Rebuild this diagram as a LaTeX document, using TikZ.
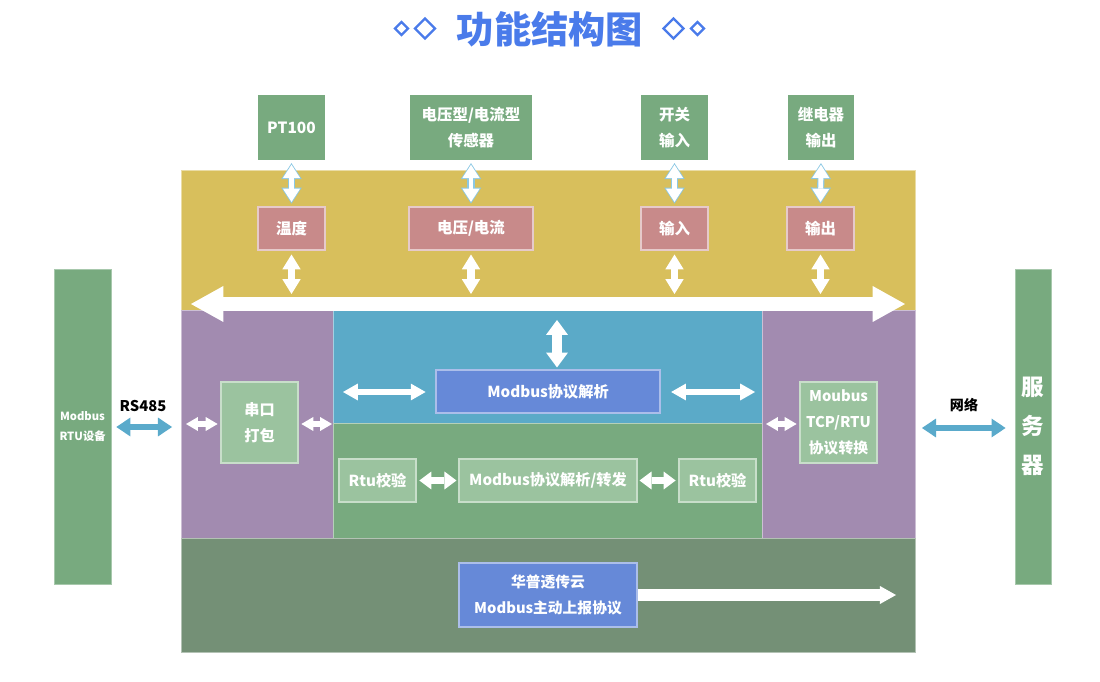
\documentclass[tikz,border=0pt]{standalone}
\usepackage{fontspec}
\setmainfont{Noto Sans CJK SC}
\usetikzlibrary{arrows.meta,calc}

\definecolor{boxgreen}{HTML}{78AA7F}
\definecolor{bandyellow}{HTML}{D8BF5C}
\definecolor{boxpink}{HTML}{C88A8A}
\definecolor{panelpurple}{HTML}{A28BB0}
\definecolor{panelblue}{HTML}{5BAAC8}
\definecolor{coreblue}{HTML}{6689D8}
\definecolor{softgreen}{HTML}{9BC39F}
\definecolor{basegreen}{HTML}{749076}
\definecolor{linkblue}{HTML}{5AAACB}
\definecolor{edgeblue}{HTML}{8CC8E4}
\definecolor{titleblue}{HTML}{4A7BEA}

\def\rhomb(#1)(#2){\draw[titleblue, line width=1.6pt] ($(#1)+(#2,0)$) -- ($(#1)+(0,#2)$) -- ($(#1)+(-#2,0)$) -- ($(#1)+(0,-#2)$) -- cycle;}

\tikzset{
  box/.style={inner sep=0pt, text=white, align=center, font=\fontsize{11}{18.5}\selectfont\bfseries},
  sensorbox/.style={box, fill=boxgreen, minimum height=1.625cm},
  portbox/.style={box, fill=boxpink, draw=white!55!boxpink, line width=0.8pt, minimum height=1.075cm},
  corebox/.style={box, fill=coreblue, draw=white!45!coreblue, line width=0.8pt, font=\fontsize{10.8}{19}\selectfont\bfseries},
  subbox/.style={box, fill=softgreen, draw=white!45!softgreen, line width=0.8pt, font=\fontsize{10.8}{18.5}\selectfont\bfseries},
  sidebox/.style={box, fill=boxgreen, draw=white!35!boxgreen, line width=0.6pt, minimum height=7.875cm},
  panel/.style={draw=white!45!#1, line width=0.6pt, fill=#1},
  link/.style args={#1/#2/#3}{draw=white, line width=#1pt, >={Triangle[width=#2pt,length=#3pt,line width=0pt]}, <->},
}

\begin{document}
\begin{tikzpicture}[x=0.025cm, y=-0.025cm]
			\useasboundingbox (0,0) rectangle (1100,682);
			
			%%%%% TITLE %%%%%
			\node[text=titleblue, font=\fontsize{26.5}{30}\selectfont\bfseries] (title) at (550,29) {功能结构图};
			\rhomb(401.5,28.5)(6.5)
			\rhomb(425,28.5)(10)
			\rhomb(673.5,28.5)(10)
			\rhomb(697.5,28.5)(6.5)
			
			%%%%% PANELS %%%%%
			\draw[panel=bandyellow] (181,170) rectangle (915,310);
			\draw[panel=panelpurple] (181,310) rectangle (333,538);
			\draw[panel=panelblue] (333,310) rectangle (762,423);
			\draw[panel=boxgreen] (333,423) rectangle (762,538);
			\draw[panel=panelpurple] (762,310) rectangle (915,538);
			\draw[panel=basegreen] (181,538) rectangle (915,652);
			
			%%%%% INPUTS %%%%%
			\node[sensorbox, minimum width=1.675cm] (pt) at (291.5,127.5) {PT100};
			\node[sensorbox, minimum width=3.05cm] (sensor) at (471,127.5) {电压型/电流型\\传感器};
			\node[sensorbox, minimum width=1.675cm] (switch) at (674.5,127.5) {开关\\输入};
			\node[sensorbox, minimum width=1.65cm] (relay) at (821,127.5) {继电器\\输出};
			
			\node[portbox, minimum width=1.675cm] (temp) at (291.5,228.5) {温度};
			\node[portbox, minimum width=3.1cm] (volt) at (471,228.5) {电压/电流};
			\node[portbox, minimum width=1.675cm] (din) at (674.5,228.5) {输入};
			\node[portbox, minimum width=1.675cm] (dout) at (820.5,228.5) {输出};
			
			\foreach \a/\b in {pt/temp, sensor/volt, switch/din, relay/dout}{
				\draw[link=5/14.6/11.4, draw=edgeblue, shorten <=2pt, shorten >=2pt] (\a.south) -- (\b.north);
				\draw[link=3.5/12.2/9.4, shorten <=3.2pt, shorten >=3.2pt] (\a.south) -- (\b.north);
			}
			
			%%%%% BUS %%%%%
			\coordinate (busL) at (191,304);
			\coordinate (busR) at (905,304);
			\coordinate (busTop) at (548,294);
			\draw[link=10/25.6/23] (busL) -- (busR);
			\foreach \b in {temp, volt, din, dout}
				\draw[link=5/13/10.5, shorten <=2.8pt] (\b.south) -- (\b.south |- busTop);
			
			%%%%% CORE %%%%%
			\node[subbox, minimum width=1.925cm, minimum height=2.025cm] (serial) at (259.5,422.5) {串口\\打包};
			\node[corebox, minimum width=5.6cm, minimum height=1.075cm] (parse) at (548,391.5) {Modbus协议解析};
			\node[subbox, minimum width=1.925cm, minimum height=1.075cm] (rtuL) at (377.5,480.5) {Rtu校验};
			\node[subbox, minimum width=4.45cm, minimum height=1.075cm] (fwd) at (548,480.5) {Modbus协议解析/转发};
			\node[subbox, minimum width=1.925cm, minimum height=1.075cm] (rtuR) at (717.5,480.5) {Rtu校验};
			\node[subbox, minimum width=1.925cm, minimum height=2.025cm, font=\fontsize{10.5}{18.5}\selectfont\bfseries] (tcp) at (838.5,422.5) {Moubus\\TCP/RTU\\协议转换};
			
			\coordinate (serialL) at (186,424);
			\coordinate (serialR) at (332,424);
			\coordinate (parseL) at (343,392);
			\coordinate (parseR) at (755,392);
			\coordinate (parseT) at (557,320);
			\coordinate (tcpL) at (766,424);
			
			\draw[link=3.6/10/8.5] (serialL) -- ([xshift=-2pt]serial.west |- serialL);
			\draw[link=3.6/10/8.5] ([xshift=2pt]serial.east |- serialR) -- (serialR);
			\draw[link=4.3/12/10.5, shorten >=7pt] (parseL) -- (parse.west |- parseL);
			\draw[link=4.3/12/10.5, shorten <=7.5pt] (parse.east |- parseR) -- (parseR);
			\draw[link=6.5/15.5/10.5, shorten >=1.4pt] (parseT) -- (parseT |- parse.north);
			\draw[link=5/12.8/8.5, shorten <=2pt, shorten >=1.4pt] (rtuL) -- (fwd);
			\draw[link=5/12.8/8.5, shorten <=1.4pt, shorten >=2pt] (fwd) -- (rtuR);
			\draw[link=3.6/10/8.5, shorten >=2pt] (tcpL) -- (tcp.west |- tcpL);
			
			%%%%% CLOUD %%%%%
			\node[corebox, minimum width=4.45cm, minimum height=1.6cm, font=\fontsize{10.5}{19}\selectfont\bfseries] (cloud) at (548,595) {华普透传云\\Modbus主动上报协议};
			\coordinate (cloudR) at (896,595);
			\draw[link=9.2/12.8/11.4, ->] (cloud.east |- cloudR) -- (cloudR);
			
			%%%%% SIDES %%%%%
			\node[sidebox, minimum width=1.425cm, font=\fontsize{8}{14}\selectfont\bfseries] (device) at (82.5,426.5) {Modbus\\RTU设备};
			\node[sidebox, minimum width=0.9cm, font=\fontsize{16}{27.5}\selectfont\bfseries] (server) at (1033,426.5) {服\\务\\器};
			
			\coordinate (rsR) at (172,427);
			\coordinate (netL) at (922,428);
			\draw[link=4.5/13.5/10, draw=linkblue, shorten <=3.5pt] (device.east |- rsR) -- (rsR);
			\draw[link=4.5/13.5/10, draw=linkblue, shorten >=6.4pt] (netL) -- (server.west |- netL);
			\node[font=\fontsize{10.5}{12}\selectfont\bfseries] (rs) at (143,406) {RS485};
			\node[font=\fontsize{10}{12}\selectfont\bfseries] (net) at (964,405) {网络};
\end{tikzpicture}
\end{document}
